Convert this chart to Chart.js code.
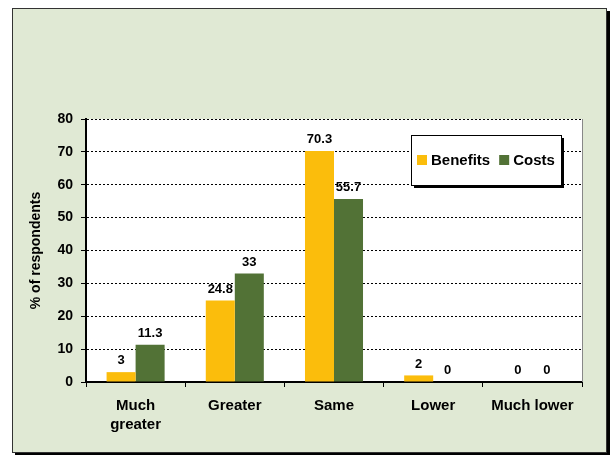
<!DOCTYPE html>
<html>
<head>
<meta charset="utf-8">
<script src="https://cdn.jsdelivr.net/npm/chart.js@4/dist/chart.umd.min.js"></script>
<style>
  body { margin: 0; background: #fff; }
  #frame {
    position: absolute; left: 12px; top: 8px; width: 593px; height: 443px;
    background: #e0e9d4; border: 1px solid #333; box-shadow: 3px 3px 0 #000;
  }
  #wrap { position: absolute; left: 0; top: 0; width: 612px; height: 455px; }
</style>
</head>
<body>
<div id="frame"></div>
<div id="wrap"><canvas id="grafico" width="612" height="455"></canvas></div>
<script>
var categorias = [['Much', 'greater'], 'Greater', 'Same', 'Lower', 'Much lower'];
var beneficios = [3, 24.8, 70.3, 2, 0];
var costos = [11.3, 33, 55.7, 0, 0];
var ticksY = [0, 10, 20, 30, 40, 50, 60, 70, 80];

var FUENTE = '"Liberation Sans", Arial, sans-serif';
var ORO = '#fbbd0c';
var VERDE = '#527236';

// fondo blanco del area de trazado + borde derecho
var fondoPlot = {
  id: 'fondoPlot',
  beforeDraw: function(chart) {
    var a = chart.chartArea, ctx = chart.ctx;
    ctx.save();
    ctx.fillStyle = '#fff';
    ctx.fillRect(a.left, a.top, a.right - a.left, a.bottom - a.top);
    ctx.restore();
  },
  afterDraw: function(chart) {
    var a = chart.chartArea, ctx = chart.ctx;
    ctx.save();
    ctx.strokeStyle = '#888';
    ctx.lineWidth = 1;
    ctx.beginPath();
    ctx.moveTo(a.right + 0.5, a.top);
    ctx.lineTo(a.right + 0.5, a.bottom);
    ctx.stroke();
    ctx.restore();
  }
};

// etiquetas de valores encima de las barras
var etiquetas = {
  id: 'etiquetas',
  afterDatasetsDraw: function(chart) {
    var ctx = chart.ctx;
    ctx.save();
    ctx.font = 'bold 13px ' + FUENTE;
    ctx.fillStyle = '#000';
    ctx.textAlign = 'center';
    ctx.textBaseline = 'bottom';
    chart.data.datasets.forEach(function(ds, i) {
      var meta = chart.getDatasetMeta(i);
      meta.data.forEach(function(bar, j) {
        ctx.fillText(String(ds.data[j]), bar.x, bar.y - 5);
      });
    });
    ctx.restore();
  }
};

// leyenda con recuadro y sombra
var leyenda = {
  id: 'leyenda',
  afterDraw: function(chart) {
    var a = chart.chartArea, ctx = chart.ctx;
    var x = a.right - 171, y = a.top + 16, w = 150, h = 50;
    ctx.save();
    ctx.fillStyle = '#000';
    ctx.fillRect(x + 3, y + 3, w, h);
    ctx.fillStyle = '#fff';
    ctx.fillRect(x, y, w, h);
    ctx.strokeStyle = '#000';
    ctx.lineWidth = 1;
    ctx.strokeRect(x + 0.5, y + 0.5, w, h);
    ctx.font = 'bold 15px ' + FUENTE;
    ctx.textBaseline = 'middle';
    ctx.textAlign = 'left';
    var px = x + 6;
    chart.data.datasets.forEach(function(ds) {
      ctx.fillStyle = ds.backgroundColor;
      ctx.fillRect(px, y + 20, 10, 10);
      ctx.fillStyle = '#000';
      ctx.fillText(ds.label, px + 14, y + 26);
      px += 14 + ctx.measureText(ds.label).width + 9;
    });
    ctx.restore();
  }
};

var ctx = document.getElementById('grafico').getContext('2d');
var myChart = new Chart(ctx, {
  type: 'bar',
  data: {
    labels: categorias,
    datasets: [
      { label: 'Benefits', data: beneficios, backgroundColor: ORO },
      { label: 'Costs', data: costos, backgroundColor: VERDE }
    ]
  },
  options: {
    responsive: false,
    animation: false,
    devicePixelRatio: 1,
    categoryPercentage: 0.585,
    barPercentage: 1.0,
    layout: { padding: { left: 24, top: 119, right: 30, bottom: 0 } },
    plugins: {
      legend: { display: false },
      tooltip: { enabled: false }
    },
    scales: {
      x: {
        offset: true,
        grid: { offset: true, drawOnChartArea: false, drawTicks: true, tickLength: 5, color: '#000' },
        border: { color: '#000', width: 2 },
        ticks: { color: '#000', font: { family: FUENTE, size: 15, weight: 'bold', lineHeight: 1.3 }, padding: 9, maxRotation: 0, autoSkip: false },
        afterFit: function(scale) { scale.height = 73; }
      },
      y: {
        min: 0,
        max: 80,
        afterBuildTicks: function(scale) {
          scale.ticks = ticksY.map(function(v) { return { value: v }; });
        },
        grid: { color: '#000', lineWidth: 1, tickLength: 5, tickColor: '#000', tickBorderDash: [] },
        border: { color: '#000', width: 2, dash: [2, 2] },
        ticks: { color: '#000', font: { family: FUENTE, size: 14, weight: 'bold' }, padding: 8 },
        title: { display: true, text: '% of respondents', color: '#000', font: { family: FUENTE, size: 14, weight: 'bold' }, padding: 4 },
        afterFit: function(scale) { scale.width = 62; }
      }
    }
  },
  plugins: [fondoPlot, etiquetas, leyenda]
});
</script>
</body>
</html>
